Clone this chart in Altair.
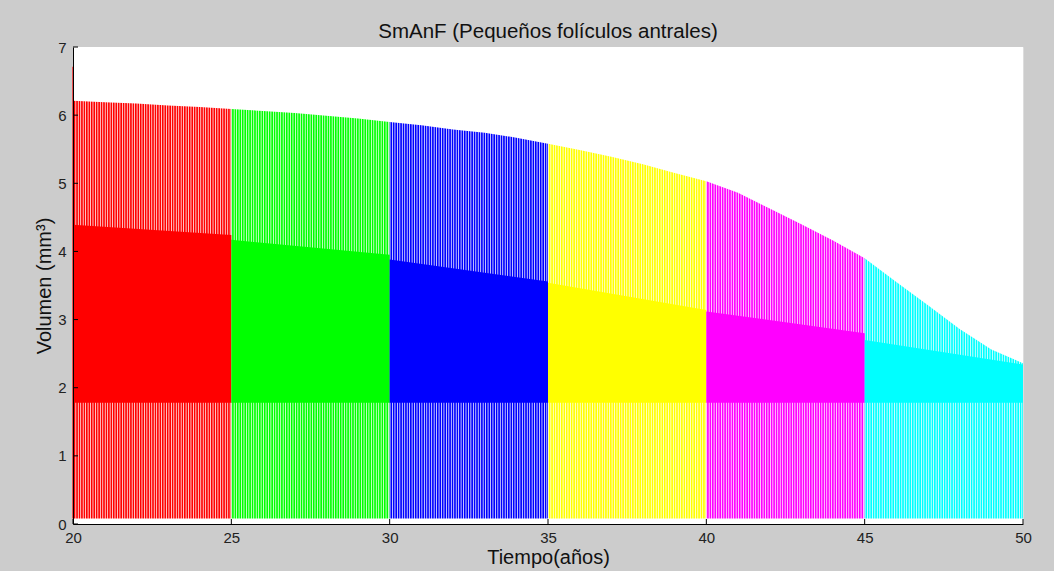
import altair as alt
import pandas as pd

# ---- data ----
years = list(range(20, 51))
peak = [6.21, 6.19, 6.17, 6.14, 6.12, 6.09,
        6.06, 6.03, 5.99, 5.95, 5.90,
        5.85, 5.79, 5.74, 5.67, 5.58,
        5.49, 5.39, 5.28, 5.15, 5.03,
        4.86, 4.63, 4.40, 4.16, 3.90,
        3.55, 3.21, 2.86, 2.56, 2.36]
trough = 0.08
spike_first = 6.71

seg_names = ["20-25", "25-30", "30-35", "35-40", "40-45", "45-50"]
seg_start = [20, 25, 30, 35, 40, 45]
seg_end = [25, 30, 35, 40, 45, 50]
seg_colors = ["#ff0000", "#00ff00", "#0000ff", "#ffff00", "#ff00ff", "#00ffff"]
band_low = [1.78, 1.78, 1.78, 1.78, 1.78, 1.78]
band_top_start = [4.39, 4.17, 3.88, 3.54, 3.12, 2.70]
band_top_end = [4.24, 3.95, 3.56, 3.14, 2.80, 2.34]

x_ticks = [20, 25, 30, 35, 40, 45, 50]
y_ticks = [0, 1, 2, 3, 4, 5, 6, 7]

W, H = 950, 477

# ---- tables ----
env_rows = []
for name, s, e in zip(seg_names, seg_start, seg_end):
    for yr, pk in zip(years, peak):
        if s <= yr <= e:
            env_rows.append({"seg": name, "t": yr, "top": pk, "low": trough})
env = pd.DataFrame(env_rows)

segs = pd.DataFrame({"seg": seg_names, "start": seg_start, "end": seg_end})

band_rows = []
for name, s, e, lo, a, b in zip(seg_names, seg_start, seg_end, band_low, band_top_start, band_top_end):
    band_rows.append({"seg": name, "t": s, "top": a, "low": lo})
    band_rows.append({"seg": name, "t": e, "top": b, "low": lo})
band = pd.DataFrame(band_rows)

xs = alt.Scale(domain=[20, 50], nice=False, zero=False)
ys = alt.Scale(domain=[0, 7], nice=False, zero=False)
cs = alt.Scale(domain=seg_names, range=seg_colors)

xaxis = alt.Axis(values=x_ticks, ticks=False, grid=False, title="Tiempo(años)",
                 labelFontSize=15, labelPadding=6, titlePadding=2, titleFontSize=20,
                 titleFontWeight="normal", domainColor="#000000", labelColor="#222222",
                 titleColor="#111111", zindex=1, format="d", labelFlush=False)
yaxis = alt.Axis(values=y_ticks, ticks=False, grid=False, title="Volumen (mm³)",
                 labelFontSize=15, labelPadding=7, titlePadding=3, titleFontSize=20,
                 titleFontWeight="normal", domainColor="#000000", labelColor="#222222",
                 titleColor="#111111", zindex=1, format="d", labelFlush=False)

plot_bg = alt.Chart(pd.DataFrame({"k": [0]})).mark_rect(color="white").encode(
    x=alt.value(0), x2=alt.value(W), y=alt.value(0), y2=alt.value(H)
)

area = alt.Chart(env).mark_area(interpolate="linear").encode(
    x=alt.X("t:Q", scale=xs, axis=xaxis),
    y=alt.Y("top:Q", scale=ys, axis=yaxis),
    y2="low:Q",
    color=alt.Color("seg:N", scale=cs, legend=None),
)

stripes = alt.Chart(segs).mark_rule(
    color="white", strokeWidth=H, strokeDash=[0.75, 1.7], strokeCap="butt"
).encode(
    x=alt.X("start:Q", scale=xs),
    x2="end:Q",
    y=alt.datum(3.5),
)

solid = alt.Chart(band).mark_area(interpolate="linear").encode(
    x=alt.X("t:Q", scale=xs),
    y=alt.Y("top:Q", scale=ys),
    y2="low:Q",
    color=alt.Color("seg:N", scale=cs, legend=None),
)

spike = alt.Chart(pd.DataFrame({"t": [20], "a": [trough], "b": [spike_first]})).mark_rule(
    color="#ff0000", strokeWidth=1.2
).encode(x=alt.X("t:Q", scale=xs), y=alt.Y("a:Q", scale=ys), y2="b:Q")

yt = alt.Chart(pd.DataFrame({"v": y_ticks})).mark_rule(color="#000000", strokeWidth=1).encode(
    y=alt.Y("v:Q", scale=ys), x=alt.value(0), x2=alt.value(5)
)
xt = alt.Chart(pd.DataFrame({"v": x_ticks})).mark_rule(color="#000000", strokeWidth=1).encode(
    x=alt.X("v:Q", scale=xs), y=alt.value(H), y2=alt.value(H - 5)
)

chart = alt.layer(plot_bg, area, stripes, solid, spike, yt, xt).properties(
    width=W, height=H,
    title=alt.TitleParams("SmAnF (Pequeños folículos antrales)", fontSize=20.5,
                          fontWeight="normal", color="#111111", anchor="middle", offset=-2),
    background="#cccccc",
    autosize=alt.AutoSizeParams(type="none"),
    padding={"left": 73, "top": 47, "right": 31, "bottom": 47},
).configure_view(
    fill="white", strokeWidth=0
).configure(
    font="Liberation Sans"
)

chart.save("out.html", embed_options={"renderer": "svg", "actions": False})
